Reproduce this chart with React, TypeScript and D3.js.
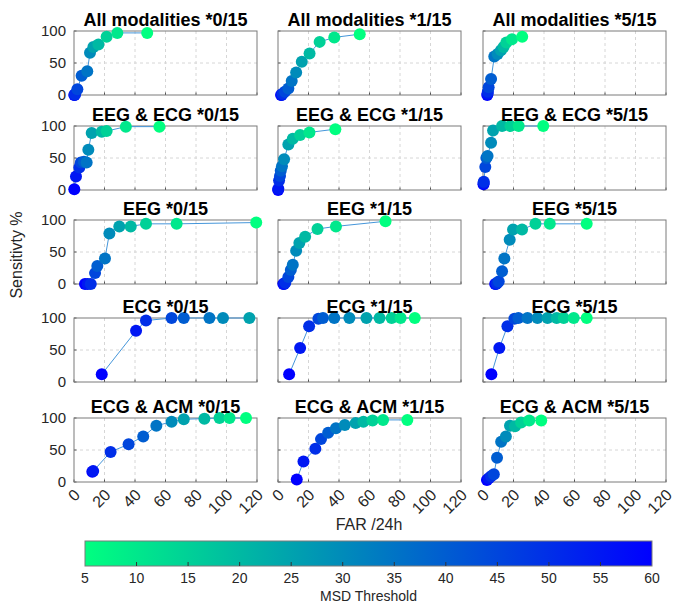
import React from "react";
import * as d3 from "d3";

// MSD thresholds, one per point (from the bluest / lowest FAR to the greenest)
const thresholds = [60, 55, 50, 45, 40, 35, 30, 25, 20, 15, 10, 5];
const modalities = ["All modalities", "EEG & ECG", "EEG", "ECG", "ECG & ACM"];
const tolerances = ["*0/15", "*1/15", "*5/15"];
const farTicks = [0, 20, 40, 60, 80, 100, 120];
const sensTicks = [0, 50, 100];
const msdTicks = [5, 10, 15, 20, 25, 30, 35, 40, 45, 50, 55, 60];

// FAR /24h and sensitivity %, one inner array per tolerance (*0/15, *1/15, *5/15)
const farAllMod = [
  [0.2, 0.4, 0.7, 2.2, 5.0, 8.7, 10.5, 12.7, 16.0, 21.4, 28.4, 48.0],
  [2.0, 2.4, 3.0, 4.5, 6.8, 9.0, 11.9, 15.6, 20.7, 27.3, 36.9, 53.6],
  [2.8, 3.0, 3.2, 3.7, 5.3, 7.4, 9.6, 11.8, 13.5, 15.3, 19.0, 25.7],
];
const sensAllMod = [
  [0, 0, 1, 9, 30, 37, 66, 75, 79, 91, 97, 97],
  [0, 0, 2, 5, 10, 22, 35, 52, 65, 83, 90, 95],
  [0, 2, 5, 12, 25, 60, 64, 70, 75, 82, 87, 91],
];
const farEegEcg = [
  [0.2, 1.3, 3.5, 4.5, 6.5, 8.3, 9.4, 11.6, 18.2, 21.4, 34.0, 56.0],
  [0.1, 0.2, 0.7, 1.3, 1.8, 2.6, 4.0, 6.8, 9.7, 14.5, 20.6, 37.6],
  [0.3, 0.4, 0.5, 1.5, 2.2, 3.0, 5.3, 6.6, 12.5, 18.0, 23.4, 39.5],
];
const sensEegEcg = [
  [1, 21, 35, 43, 44, 43, 63, 89, 91, 92, 99, 99],
  [0, 2, 15, 22, 30, 37, 48, 71, 80, 86, 90, 95],
  [9, 11, 13, 36, 50, 53, 74, 93, 100, 100, 100, 100],
];
const farEeg = [
  [7.2, 9.0, 11.0, 13.8, 15.3, 20.3, 23.2, 29.7, 37.2, 47.2, 67.3, 119.5],
  [3.5, 4.0, 4.8, 6.8, 8.4, 9.7, 11.9, 14.0, 17.8, 25.9, 38.0, 70.5],
  [8.0, 8.5, 9.2, 10.3, 12.5, 14.0, 17.5, 19.7, 25.6, 34.4, 43.8, 68.0],
];
const sensEeg = [
  [0, 0, 0, 17, 28, 40, 79, 90, 90, 94, 94, 96],
  [0, 0, 2, 11, 22, 30, 52, 64, 74, 86, 90, 98],
  [0, 0, 1, 4, 20, 40, 69, 85, 85, 94, 94, 94],
];
const farEcg = [
  [18.2, 40.7, 47.2, 64.0, 72.0, 88.8, 97.7, 115.0],
  [7.3, 14.5, 20.4, 26.5, 29.5, 36.9, 46.8, 58.0, 66.6, 74.5, 80.4, 89.7],
  [5.5, 10.7, 16.0, 20.6, 23.2, 29.2, 35.7, 42.3, 48.3, 52.9, 59.5, 68.0],
];
const sensEcg = [
  [12, 80, 96, 100, 100, 100, 100, 100],
  [12, 53, 87, 99, 100, 100, 100, 100, 100, 100, 100, 100],
  [12, 53, 87, 99, 100, 100, 100, 100, 100, 100, 100, 100],
];
const farEcgAcm = [
  [12.0, 12.6, 24.0, 35.8, 45.4, 54.0, 64.0, 72.0, 85.5, 95.4, 102.0, 112.8],
  [12.3, 16.7, 24.5, 28.2, 32.9, 38.0, 43.8, 50.9, 56.0, 62.0, 68.9, 84.8],
  [2.6, 3.8, 5.3, 7.1, 9.2, 11.9, 15.0, 17.7, 21.0, 25.0, 30.3, 38.2],
];
const sensEcgAcm = [
  [16, 17, 47, 59, 71, 88, 94, 98, 99, 100, 100, 100],
  [4, 32, 52, 67, 77, 84, 89, 92, 94, 96, 97, 97],
  [3, 6, 9, 12, 38, 63, 71, 88, 87, 93, 96, 96],
];

const farRows = [farAllMod, farEegEcg, farEeg, farEcg, farEcgAcm];
const sensRows = [sensAllMod, sensEegEcg, sensEeg, sensEcg, sensEcgAcm];

const W = 693;
const H = 605;
const colLeft = [74, 278, 483];
const rowTop = [31, 126, 220, 318, 418];
const pw = 183;
const ph = 64;
const font = "'Liberation Sans', Arial, Helvetica, sans-serif";

const color = d3.scaleLinear<string>().domain([5, 60]).range(["#00ff80", "#0000ff"]);

function Panel({ r, c }: { r: number; c: number }) {
  const left = colLeft[c];
  const top = rowTop[r];
  const x = d3.scaleLinear().domain([0, 120]).range([left, left + pw]);
  const y = d3.scaleLinear().domain([0, 100]).range([top + ph, top]);
  const far = farRows[r][c];
  const sens = sensRows[r][c];
  const pts = far.map((f, i) => ({ f, s: sens[i], t: thresholds[i] }));
  const line = d3
    .line<{ f: number; s: number }>()
    .x((d) => x(d.f))
    .y((d) => y(d.s));
  const bottom = top + ph;
  return (
    <g>
      <rect x={left} y={top} width={pw} height={ph} fill="#fff" />
      {farTicks.slice(1, -1).map((t) => (
        <line key={"gx" + t} x1={x(t)} x2={x(t)} y1={top} y2={bottom} stroke="#d6d6d6" strokeDasharray="3,3" />
      ))}
      <line x1={left} x2={left + pw} y1={y(50)} y2={y(50)} stroke="#d6d6d6" strokeDasharray="3,3" />
      {farTicks.map((t) => (
        <line key={"tx" + t} x1={x(t)} x2={x(t)} y1={bottom} y2={bottom - 2.5} stroke="#555" />
      ))}
      {sensTicks.map((t) => (
        <line key={"ty" + t} x1={left} x2={left + 2.5} y1={y(t)} y2={y(t)} stroke="#555" />
      ))}
      <rect x={left} y={top} width={pw} height={ph} fill="none" stroke="#7a7a7a" strokeWidth={1} />
      <path d={line(pts) || ""} fill="none" stroke="#4596da" strokeWidth={1} />
      {pts.map((p, i) => (
        <circle key={i} cx={x(p.f)} cy={y(p.s)} r={6} fill={color(p.t)} />
      ))}
      <text x={left + pw / 2} y={top - 5} textAnchor="middle" fontFamily={font} fontWeight="bold" fontSize={18} fill="#000">
        {modalities[r] + " " + tolerances[c]}
      </text>
      {c === 0 &&
        sensTicks.map((t) => (
          <text key={"ly" + t} x={left - 8} y={y(t)} dy="0.35em" textAnchor="end" fontFamily={font} fontSize={15} fill="#262626">
            {t}
          </text>
        ))}
      {r === rowTop.length - 1 &&
        farTicks.map((t) => (
          <text
            key={"lx" + t}
            transform={`translate(${x(t) + 3},${bottom + 10}) rotate(-45)`}
            dy="0.35em"
            textAnchor="end"
            fontFamily={font}
            fontSize={16}
            fill="#262626"
          >
            {t}
          </text>
        ))}
    </g>
  );
}

function Colorbar() {
  const x0 = 85;
  const x1 = 652;
  const top = 541;
  const h = 25;
  const cx = d3.scaleLinear().domain([5, 60]).range([x0, x1]);
  return (
    <g>
      <defs>
        <linearGradient id="msd" x1="0" x2="1" y1="0" y2="0">
          <stop offset="0" stopColor={color(5)} />
          <stop offset="1" stopColor={color(60)} />
        </linearGradient>
      </defs>
      <rect x={x0} y={top} width={x1 - x0} height={h} fill="url(#msd)" stroke="#7a7a7a" />
      {msdTicks.slice(1, -1).map((t) => (
        <line key={t} x1={cx(t)} x2={cx(t)} y1={top + h} y2={top + h - 4} stroke="#333" />
      ))}
      {msdTicks.map((t) => (
        <text key={"l" + t} x={cx(t)} y={top + h + 17} textAnchor="middle" fontFamily={font} fontSize={14} fill="#262626">
          {t}
        </text>
      ))}
      <text x={(x0 + x1) / 2} y={top + h + 35} textAnchor="middle" fontFamily={font} fontSize={14} fill="#262626">
        MSD Threshold
      </text>
    </g>
  );
}

export default function App() {
  return (
    <svg width={W} height={H} style={{ display: "block", position: "absolute", left: 0, top: 0, background: "#fff" }}>
      <rect width={W} height={H} fill="#fff" />
      {rowTop.map((_, r) => colLeft.map((_, c) => <Panel key={r + "-" + c} r={r} c={c} />))}
      <text
        transform="translate(22,255) rotate(-90)"
        textAnchor="middle"
        fontFamily={font}
        fontSize={16}
        fill="#262626"
      >
        Sensitivty %
      </text>
      <text x={369} y={530} textAnchor="middle" fontFamily={font} fontSize={16} fill="#262626">
        FAR /24h
      </text>
      <Colorbar />
    </svg>
  );
}
